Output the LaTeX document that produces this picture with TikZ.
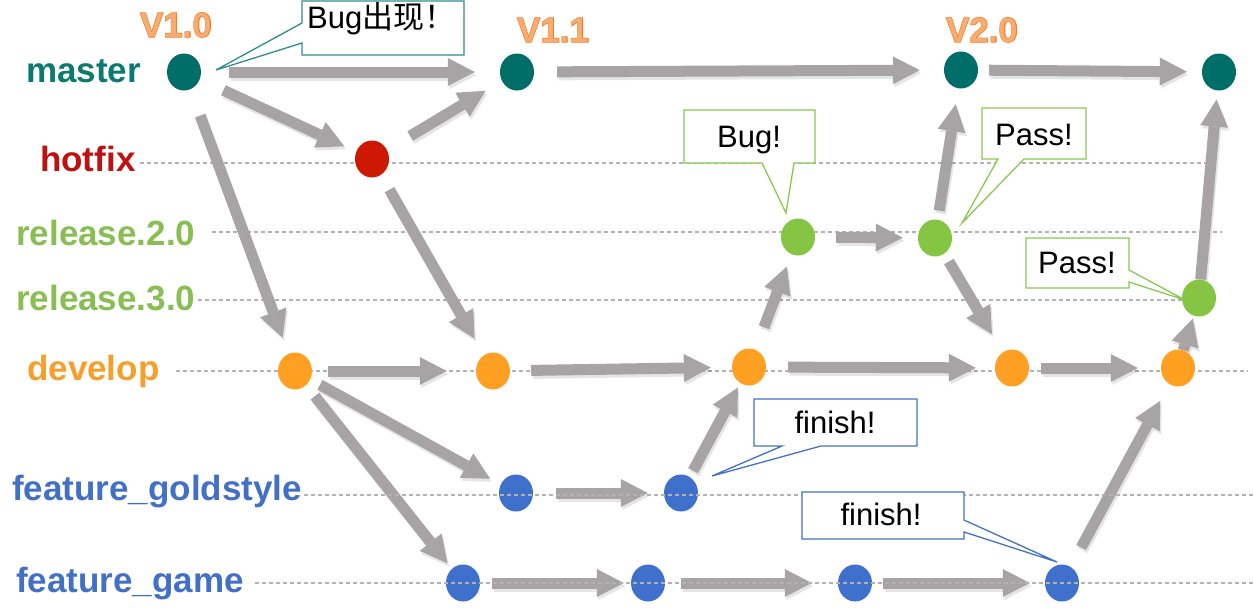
\documentclass[tikz,border=0pt]{standalone}
\usepackage{fontspec}
\setmainfont{Liberation Sans}
\newfontfamily\cjk{Noto Sans CJK SC}
\newfontface\outface[FakeBold=3]{Liberation Sans Bold}
\usetikzlibrary{arrows.meta,shapes.geometric}
\definecolor{cteal}{RGB}{0,110,104}
\definecolor{ctealtxt}{RGB}{12,122,114}
\definecolor{cred}{RGB}{205,24,4}
\definecolor{credtxt}{RGB}{190,18,18}
\definecolor{cgreen}{RGB}{134,196,68}
\definecolor{cgreentxt}{RGB}{136,190,82}
\definecolor{corange}{RGB}{255,160,34}
\definecolor{corangetxt}{RGB}{245,160,42}
\definecolor{cblue}{RGB}{62,112,204}
\definecolor{cbluetxt}{RGB}{66,112,198}
\definecolor{carrow}{RGB}{168,164,166}
\definecolor{cdash}{RGB}{178,178,178}
\definecolor{cver}{RGB}{238,124,42}
\definecolor{cverin}{RGB}{248,172,112}
\definecolor{cbtea}{RGB}{48,140,140}
\definecolor{cbgre}{RGB}{140,200,80}
\definecolor{cbblu}{RGB}{68,114,196}
\pgfdeclarelayer{back}
\pgfdeclarelayer{bg}
\pgfsetlayers{back,bg,main}
\newcommand\garrow[4]{%
  \draw[flowsh, shorten <=#1pt, shorten >=#2pt, transform canvas={shift={(1.5pt,-3pt)}}] (#3) -- (#4);
  \draw[flow, shorten <=#1pt, shorten >=#2pt] (#3) -- (#4);}
\begin{document}
\begin{tikzpicture}[x=1pt,y=-1pt,
  commit/.style={ellipse, minimum width=34pt, minimum height=37pt, inner sep=0pt},
  lab/.style={anchor=base west, font=\fontsize{35}{40}\selectfont\bfseries, inner sep=0pt},
  verout/.style={font=\fontsize{35}{40}\selectfont\outface, text=cver, inner sep=0pt, anchor=base},
  verin/.style={font=\fontsize{35}{40}\selectfont\bfseries, text=cverin, inner sep=0pt, anchor=base},
  flow/.style={draw=carrow, line width=11pt, -{Triangle[width=28pt,length=27pt,line width=0pt]}},
  flowsh/.style={draw=black, draw opacity=0.1, fill opacity=0.1, line width=11pt, -{Triangle[width=28pt,length=27pt,line width=0pt]}},
  lane/.style={draw=cdash, dash pattern=on 4pt off 3pt, line width=1.2pt},
  say/.style={font=\fontsize{31}{36}\selectfont, inner sep=0pt, anchor=base},
  boxt/.style={draw=cbtea, fill=white, line width=1.3pt},
  boxg/.style={draw=cbgre, fill=white, line width=1.3pt},
  boxb/.style={draw=cbblu, fill=white, line width=1.3pt},
]
\useasboundingbox (0,0) rectangle (1254,608);
\begin{pgfonlayer}{back}
\fill[white] (0,0) rectangle (1254,608);
\end{pgfonlayer}

% branch labels
\node[lab, text=ctealtxt] (lmaster) at (26,82) {master};
\node[lab, text=credtxt] (lhotfix) at (40,171) {hotfix};
\node[lab, text=cgreentxt] (lrel2) at (16,245) {release.2.0};
\node[lab, text=cgreentxt] (lrel3) at (16,310) {release.3.0};
\node[lab, text=corangetxt] (ldev) at (27,380) {develop};
\node[lab, text=cbluetxt] (lgold) at (12,500) {feature\_goldstyle};
\node[lab, text=cbluetxt] (lgame) at (16,592) {feature\_game};

% versions (outlined)
\node[verout] (v10o) at (176,37) {V1.0};
\node[verin] (v10) at (v10o.base) {V1.0};
\node[verout] (v11o) at (553,42) {V1.1};
\node[verin] (v11) at (v11o.base) {V1.1};
\node[verout] (v20o) at (982,42) {V2.0};
\node[verin] (v20) at (v20o.base) {V2.0};

% commits
\node[commit, fill=cteal] (M1) at (184,72) {};
\node[commit, fill=cteal] (M2) at (517,72) {};
\node[commit, fill=cteal] (M3) at (961,70) {};
\node[commit, fill=cteal] (M4) at (1219,72) {};
\node[commit, fill=cred] (H1) at (372,159) {};
\node[commit, fill=cgreen] (R1) at (798,237) {};
\node[commit, fill=cgreen] (R2) at (935,238) {};
\node[commit, fill=cgreen] (R3) at (1199,298) {};
\node[commit, fill=corange] (D1) at (295,371) {};
\node[commit, fill=corange] (D2) at (493,371) {};
\node[commit, fill=corange] (D3) at (749,367) {};
\node[commit, fill=corange] (D4) at (1012,368) {};
\node[commit, fill=corange] (D5) at (1178,368) {};
\node[commit, fill=cblue] (G1) at (516,493) {};
\node[commit, fill=cblue] (G2) at (681,493) {};
\node[commit, fill=cblue] (F1) at (463,583) {};
\node[commit, fill=cblue] (F2) at (648,583) {};
\node[commit, fill=cblue] (F3) at (855,583) {};
\node[commit, fill=cblue] (F4) at (1062,583) {};

\begin{pgfonlayer}{bg}
\draw[lane] (140,163) -- (1207,163);
\draw[lane] (212,232) -- (1222,232);
\draw[lane] (198,300) -- (1214,300);
\draw[lane] (176,371) -- (1248,371);
\garrow{28}{25}{M1}{M2}
\garrow{23}{24}{M2}{M3}
\garrow{11}{15}{M3}{M4}
\garrow{26}{13}{M1}{H1}
\garrow{27}{19}{H1}{M2}
\garrow{28}{17}{M1}{D1}
\garrow{17}{19}{H1}{D2}
\garrow{16}{29}{D1}{D2}
\garrow{21}{21}{D2}{D3}
\garrow{11}{12}{D1}{G1}
\garrow{14}{7}{D1}{F1}
\garrow{23}{16}{G1}{G2}
\garrow{12}{7}{F1}{F2}
\garrow{7}{5}{G2}{D3}
\garrow{16}{26}{F2}{F3}
\garrow{11}{15}{F3}{F4}
\garrow{22}{19}{F4}{D5}
\garrow{22}{19}{D3}{D4}
\garrow{12}{23}{D4}{D5}
\garrow{0}{3}{D5}{R3}
\garrow{24}{13}{D3}{R1}
\garrow{21}{15}{R1}{R2}
\garrow{9}{16}{R2}{M3}
\garrow{9}{21}{R2}{D4}
\garrow{0}{9}{R3}{M4}
\end{pgfonlayer}

% feature lanes drawn over the commits
\draw[lane] (304,495) -- (1254,495);
\draw[lane] (255,583) -- (1254,583);

% callouts
\draw[boxt] (302,1) -- (464,1) -- (464,55) -- (302,55) -- (302,43) -- (216,70) -- (302,23) -- cycle;
\node[say, anchor=base west] (cBugA) at (307,28) {Bug{\cjk 出现！}};

\draw[boxg] (684,110) -- (815,110) -- (815,163) -- (794,163) -- (786,213) -- (762,163) -- (684,163) -- cycle;
\node[say] (cBugB) at (749,147) {Bug!};

\draw[boxg] (982,108) -- (1086,108) -- (1086,159) -- (1024,159) -- (962,223) -- (998,159) -- (982,159) -- cycle;
\node[say] (cPassA) at (1034,145) {Pass!};

\draw[boxg] (1026,238) -- (1129,238) -- (1129,270) -- (1185,300) -- (1129,282) -- (1129,288) -- (1026,288) -- cycle;
\node[say] (cPassB) at (1077,273) {Pass!};

\draw[boxb] (754,399) -- (917,399) -- (917,446) -- (821,446) -- (712,476) -- (782,446) -- (754,446) -- cycle;
\node[say] (cFinA) at (835,433) {finish!};

\draw[boxb] (802,492) -- (964,492) -- (964,520) -- (1057,562) -- (964,532) -- (964,539) -- (802,539) -- cycle;
\node[say] (cFinB) at (881,525) {finish!};
\end{tikzpicture}
\end{document}
